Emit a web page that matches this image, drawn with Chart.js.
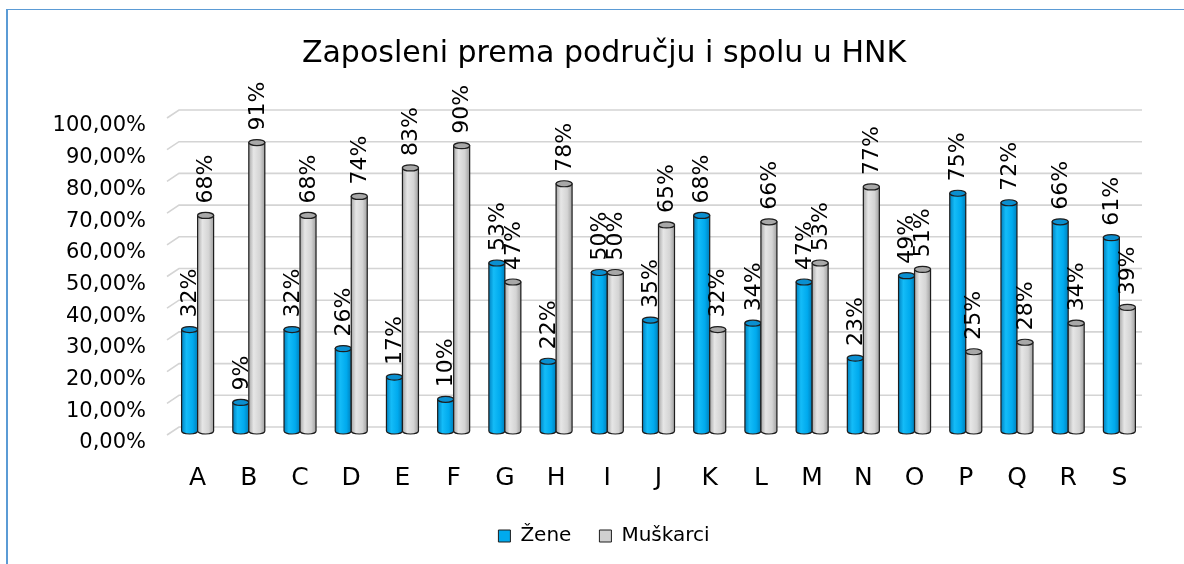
<!DOCTYPE html>
<html><head><meta charset="utf-8">
<script src="https://cdn.jsdelivr.net/npm/chart.js@4.4.1/dist/chart.umd.min.js"></script>
<style>
html,body{margin:0;padding:0;background:#fff;overflow:hidden;}
#wrap{position:relative;width:1184px;height:564px;}
#frame{position:absolute;left:6px;top:9px;width:1300px;height:700px;border-left:2px solid #5b9bd5;border-top:1px solid #5b9bd5;pointer-events:none;}
canvas{position:absolute;left:0;top:0;}
</style></head><body>
<div id="wrap"><canvas id="c" width="1184" height="564"></canvas><div id="frame"></div></div>
<script>
const categories = ['A','B','C','D','E','F','G','H','I','J','K','L','M','N','O','P','Q','R','S'];
const zene = [32,9,32,26,17,10,53,22,50,35,68,34,47,23,49,75,72,66,61];
const muskarci = [68,91,68,74,83,90,47,78,50,65,32,66,53,77,51,25,28,34,39];
const yTicks = [0,10,20,30,40,50,60,70,80,90,100];
const seriesNames = ['Žene','Muškarci'];

const FONT = 'DejaVu Sans';

const gridPlugin = {
  id: 'grid3d',
  beforeDatasetsDraw(chart) {
    const ctx = chart.ctx, y = chart.scales.y, a = chart.chartArea;
    ctx.save();
    ctx.strokeStyle = '#d4d4d4';
    ctx.lineWidth = 1.6;
    yTicks.forEach(v => {
      const py = y.getPixelForValue(v) - 4;
      ctx.beginPath();
      ctx.moveTo(a.left - 5, py + 8);
      ctx.lineTo(a.left + 7, py);
      ctx.lineTo(a.right - 3, py);
      ctx.stroke();
    });
    ctx.restore();
  }
};

const cylPlugin = {
  id: 'cyl',
  afterDatasetsDraw(chart) {
    const ctx = chart.ctx;
    const styles = [
      {stops:['#0082c0','#14bcf8','#00aaee','#0080bc'], cap:'#0a8fd0'},
      {stops:['#a8a8a8','#e6e6e6','#d4d4d4','#a0a0a0'], cap:'#a8a8a8'}
    ];
    chart.data.datasets.forEach((ds, di) => {
      const meta = chart.getDatasetMeta(di);
      const st = styles[di];
      meta.data.forEach((el, i) => {
        const w = el.width, x0 = el.x - w/2, x1 = el.x + w/2, top = el.y, base = el.base;
        const ry = 3;
        const g = ctx.createLinearGradient(x0, 0, x1, 0);
        g.addColorStop(0, st.stops[0]); g.addColorStop(0.3, st.stops[1]);
        g.addColorStop(0.7, st.stops[2]); g.addColorStop(1, st.stops[3]);
        ctx.save();
        ctx.beginPath();
        ctx.moveTo(x0, top);
        ctx.lineTo(x0, base);
        ctx.ellipse(el.x, base, w/2, ry, 0, Math.PI, 0, true);
        ctx.lineTo(x1, top);
        ctx.closePath();
        ctx.fillStyle = g; ctx.fill();
        ctx.strokeStyle = '#1e1e1e'; ctx.lineWidth = 1.2; ctx.stroke();
        ctx.beginPath();
        ctx.ellipse(el.x, top, w/2, ry, 0, 0, Math.PI*2);
        ctx.fillStyle = st.cap; ctx.fill();
        ctx.stroke();
        ctx.restore();
        // data label
        ctx.save();
        ctx.translate(el.x, top - 12);
        ctx.rotate(-Math.PI/2);
        ctx.font = '22px "' + FONT + '"';
        ctx.fillStyle = '#000';
        ctx.textAlign = 'left';
        ctx.textBaseline = 'middle';
        ctx.fillText(ds.data[i] + '%', 0, 1);
        ctx.restore();
      });
    });
  }
};

new Chart(document.getElementById('c'), {
  type: 'bar',
  data: {
    labels: categories,
    datasets: [
      {label: seriesNames[0], data: zene, backgroundColor: '#00aaee', borderColor: '#1e1e1e', borderWidth: 1},
      {label: seriesNames[1], data: muskarci, backgroundColor: '#d0d0d0', borderColor: '#1e1e1e', borderWidth: 1}
    ]
  },
  options: {
    responsive: false,
    animation: false,
    devicePixelRatio: 1,
    categoryPercentage: 0.625,
    barPercentage: 1.0,
    layout: {padding: {left: 40, right: 16, top: 0, bottom: 8}},
    plugins: {
      title: {display: true, text: 'Zaposleni prema području i spolu u HNK', color: '#000',
        font: {family: FONT, size: 30, weight: 'normal'}, padding: {top: 36, bottom: 42}},
      legend: {position: 'bottom', labels: {color: '#000', font: {family: FONT, size: 20},
        boxWidth: 12, boxHeight: 12, padding: 28}},
      tooltip: {enabled: false}
    },
    scales: {
      x: {grid: {display: false, drawTicks: false}, border: {display: false},
        afterFit: s => { s.height = 67; },
        ticks: {color: '#000', font: {family: FONT, size: 25}, padding: 32}},
      y: {min: 0, max: 100, grid: {display: false, drawTicks: false}, border: {display: false},
        afterFit: s => { s.width = 132; },
        afterBuildTicks: s => { s.ticks = yTicks.map(v => ({value: v})); },
        ticks: {color: '#000', font: {family: FONT, size: 21}, padding: 26, labelOffset: 12,
          callback: v => v + ',00%'}},
      y2: {position: 'right', display: true, grid: {display: false, drawTicks: false}, border: {display: false},
        ticks: {display: false}, afterFit: s => { s.width = 23; }}
    }
  },
  plugins: [gridPlugin, cylPlugin]
});
</script>
</body></html>
